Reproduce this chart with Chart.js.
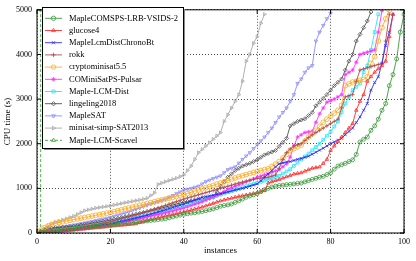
<!DOCTYPE html>
<html>
<head>
<meta charset="utf-8">
<script src="https://cdn.jsdelivr.net/npm/chart.js@4/dist/chart.umd.min.js"></script>
<style>
  body { margin: 0; background: #fff; }
  canvas { display: block; }
</style>
</head>
<body>
<canvas id="cactus" width="416" height="261"></canvas>
<script>
// solver names, in legend order
const solvers = ['MapleCOMSPS-LRB-VSIDS-2', 'glucose4', 'MapleLcmDistChronoBt', 'rokk',
  'cryptominisat5.5', 'COMiniSatPS-Pulsar', 'Maple-LCM-Dist', 'lingeling2018',
  'MapleSAT', 'minisat-simp-SAT2013', 'Maple-LCM-Scavel'];

// sorted CPU times (s), instance i+1 -> value i
const mapleComsps = [10, 20, 30, 40, 50, 60, 70, 80, 90, 100,
  108, 115, 122, 130, 140, 148, 155, 163, 172, 180,
  188, 195, 203, 210, 220, 230, 240, 250, 260, 270,
  280, 290, 300, 310, 320, 340, 360, 380, 400, 420,
  432, 445, 455, 468, 480, 500, 520, 540, 570, 600,
  615, 630, 650, 685, 720, 760, 800, 830, 855, 880,
  925, 970, 1000, 1030, 1050, 1062, 1072, 1082, 1090, 1100,
  1110, 1120, 1145, 1175, 1200, 1225, 1250, 1270, 1310, 1350,
  1430, 1500, 1530, 1560, 1600, 1640, 1760, 2040, 2100, 2150,
  2300, 2400, 2550, 2750, 2900, 3300, 3550, 3900, 4500, 4900];

const glucose = [5, 12, 20, 28, 35, 42, 50, 57, 64, 70,
  78, 85, 92, 100, 108, 115, 122, 130, 140, 150,
  158, 166, 174, 182, 190, 198, 207, 235, 258, 280,
  300, 320, 340, 360, 380, 398, 416, 434, 452, 470,
  492, 514, 536, 558, 580, 608, 636, 664, 692, 720,
  740, 760, 780, 800, 820, 836, 852, 868, 884, 900,
  925, 950, 1120, 1150, 1175, 1200, 1230, 1260, 1290, 1320,
  1335, 1350, 1385, 1420, 1450, 1465, 1480, 1560, 1650, 1850,
  1950, 2050, 2150, 2250, 2350, 2450, 2750, 2950, 3100, 3400,
  3500, 3600, 3680, 3750, 3850, 4400, 4900];

const chronoBt = [8, 16, 24, 32, 40, 48, 56, 64, 72, 80,
  92, 104, 116, 128, 140, 152, 164, 176, 188, 200,
  220, 240, 260, 280, 300, 320, 340, 360, 380, 400,
  424, 448, 472, 496, 520, 546, 572, 598, 624, 650,
  680, 710, 740, 770, 800, 816, 832, 848, 864, 880,
  900, 920, 940, 960, 980, 1000, 1025, 1050, 1075, 1100,
  1170, 1250, 1320, 1400, 1480, 1550, 1570, 1590, 1600, 1625,
  1650, 1670, 1695, 1720, 1765, 1810, 1855, 1900, 1950, 2000,
  2040, 2080, 2120, 2200, 2275, 2350, 2475, 2600, 2750, 2900,
  3200, 3370, 3500, 3800, 4200, 4500, 4900];

const rokk = [10, 20, 30, 40, 50, 60, 70, 80, 90, 100,
  115, 130, 145, 160, 175, 190, 205, 220, 235, 250,
  273, 296, 319, 342, 365, 388, 411, 434, 457, 480,
  508, 536, 564, 592, 620, 648, 676, 704, 732, 760,
  784, 808, 832, 856, 880, 904, 928, 952, 976, 1000,
  1024, 1048, 1072, 1096, 1120, 1140, 1160, 1180, 1200, 1220,
  1230, 1240, 1250, 1275, 1300, 1450, 1650, 1800, 1880, 1950,
  1975, 2000, 2070, 2140, 2200, 2250, 2300, 2350, 2400, 2450,
  2500, 2550, 2800, 3050, 3075, 3100, 3400, 3650, 3675, 3700,
  3725, 3750, 3775, 3800, 4300, 4900];

const cryptominisat = [60, 120, 160, 190, 220, 236, 252, 268, 284, 300,
  316, 332, 348, 364, 380, 396, 412, 428, 444, 460,
  480, 500, 520, 540, 560, 580, 600, 620, 640, 660,
  680, 700, 720, 740, 760, 780, 800, 820, 840, 860,
  886, 912, 938, 964, 990, 1016, 1042, 1068, 1094, 1120,
  1148, 1176, 1204, 1232, 1260, 1284, 1308, 1332, 1356, 1380,
  1400, 1420, 1440, 1490, 1545, 1600, 1680, 1760, 1850, 1890,
  1930, 1970, 2060, 2150, 2225, 2300, 2390, 2480, 2550, 2620,
  2685, 2750, 2860, 3300, 3340, 3380, 3400, 3420, 3440, 3500,
  3800, 3950, 4300, 4600, 4800, 4990];

const pulsar = [4, 8, 12, 16, 20, 28, 36, 44, 52, 60,
  72, 84, 96, 108, 120, 134, 148, 162, 176, 190,
  206, 222, 238, 254, 270, 288, 306, 324, 342, 360,
  378, 396, 414, 432, 450, 472, 494, 516, 538, 560,
  588, 616, 644, 672, 700, 736, 772, 808, 844, 880,
  930, 980, 1013, 1046, 1080, 1113, 1146, 1180, 1215, 1250,
  1277, 1304, 1330, 1360, 1390, 1420, 1485, 1550, 1700, 1950,
  2150, 2200, 2250, 2265, 2280, 2480, 2670, 2800, 2930, 2965,
  3000, 3050, 3100, 3550, 3600, 3650, 3825, 4000, 4025, 4050,
  4075, 4100, 4500, 4980];

const lcmDist = [8, 16, 24, 32, 40, 50, 60, 70, 80, 90,
  102, 114, 126, 138, 150, 164, 178, 192, 206, 220,
  236, 252, 268, 284, 300, 318, 336, 354, 372, 390,
  410, 430, 450, 470, 490, 512, 534, 556, 578, 600,
  624, 648, 672, 696, 720, 748, 776, 804, 832, 860,
  888, 916, 944, 972, 1000, 1024, 1048, 1072, 1096, 1120,
  1147, 1174, 1200, 1227, 1254, 1280, 1330, 1380, 1430, 1503,
  1576, 1650, 1715, 1780, 1853, 1926, 2000, 2090, 2180, 2270,
  2385, 2500, 2700, 2900, 3050, 3200, 3275, 3350, 3600, 3750,
  4100, 4500, 4900];

const lingeling = [40, 70, 100, 110, 120, 126, 132, 138, 144, 150,
  164, 178, 192, 206, 220, 234, 248, 262, 276, 290,
  308, 326, 344, 362, 380, 400, 420, 440, 460, 480,
  500, 520, 540, 560, 580, 602, 624, 646, 668, 690,
  704, 718, 732, 746, 760, 773, 786, 800, 920, 1050,
  1150, 1250, 1325, 1400, 1450, 1500, 1530, 1560, 1600, 1640,
  1695, 1750, 1783, 1816, 1850, 1940, 2030, 2120, 2400, 2450,
  2500, 2530, 2560, 2630, 2700, 2850, 2930, 3015, 3100, 3200,
  3300, 3375, 3450, 3650, 3850, 4000, 4300, 4450, 4600, 4750,
  4950];

const mapleSat = [20, 40, 60, 80, 100, 116, 132, 148, 164, 180,
  196, 212, 228, 244, 260, 278, 296, 314, 332, 350,
  374, 398, 422, 446, 470, 500, 530, 560, 590, 620,
  648, 676, 704, 732, 760, 800, 840, 880, 920, 960,
  980, 1000, 1025, 1050, 1100, 1150, 1185, 1220, 1250, 1280,
  1350, 1420, 1450, 1480, 1565, 1650, 1725, 1800, 1890, 1980,
  2065, 2150, 2250, 2350, 2475, 2600, 2700, 2800, 2950, 3100,
  3350, 3450, 3600, 3700, 3750, 4300, 4500, 4650, 4800, 4920];

const minisat = [40, 100, 150, 200, 240, 267, 294, 320, 350, 380,
  420, 460, 500, 520, 540, 560, 572, 585, 598, 610,
  628, 645, 662, 680, 695, 710, 725, 740, 760, 780,
  840, 900, 1090, 1120, 1150, 1177, 1204, 1230, 1265, 1300,
  1400, 1500, 1650, 1800, 1875, 1950, 2025, 2100, 2175, 2250,
  2500, 2650, 2800, 2950, 3100, 3400, 3850, 4000, 4250, 4400,
  4700, 4900];

// Maple-LCM-Scavel: only the first instance, then straight up
const scavelX = [1, 1];
const scavelY = [20, 5000];

const xTicks = [0, 20, 40, 60, 80, 100];
const yTicks = [0, 1000, 2000, 3000, 4000, 5000];

const series = [mapleComsps, glucose, chronoBt, rokk, cryptominisat, pulsar,
  lcmDist, lingeling, mapleSat, minisat];
const colors = ['#3a9a3a', '#ff2a2a', '#2a2aff', '#a8524e', '#ffaa22', '#ff33ff',
  '#22e6ff', '#505050', '#8c8cff', '#a8a8a8', '#33aa33'];
const marks = [
  {pointStyle: 'circle', rotation: 0},
  {pointStyle: 'triangle', rotation: 0},
  {pointStyle: 'crossRot', rotation: 0},
  {pointStyle: 'cross', rotation: 0},
  {pointStyle: 'circle', rotation: 0},
  {pointStyle: 'star', rotation: 0},
  {pointStyle: 'rect', rotation: 0},
  {pointStyle: 'rectRot', rotation: 0},
  {pointStyle: 'triangle', rotation: 180},
  {pointStyle: 'triangle', rotation: 90},
  {pointStyle: 'triangle', rotation: 0}
];

const toPoints = vals => vals.map((v, i) => ({x: i + 1, y: v}));

const datasets = series.map((vals, i) => ({
  label: solvers[i],
  data: toPoints(vals),
  borderColor: colors[i],
  backgroundColor: 'transparent',
  borderWidth: 0.9,
  pointStyle: marks[i].pointStyle,
  rotation: marks[i].rotation,
  pointRadius: i === 4 ? 2.4 : 2,
  pointBorderWidth: 0.8,
  pointBackgroundColor: 'transparent',
  pointBorderColor: colors[i]
}));
datasets.push({
  label: solvers[10],
  data: scavelX.map((x, i) => ({x: x, y: scavelY[i]})),
  borderColor: colors[10],
  backgroundColor: 'transparent',
  borderWidth: 0.9,
  borderDash: [3, 2],
  pointStyle: 'triangle',
  pointRadius: 2,
  pointBorderWidth: 0.8,
  pointBackgroundColor: 'transparent',
  pointBorderColor: colors[10]
});

const serif = 'Liberation Serif, Times New Roman, serif';

// gnuplot-like frame, inward ticks and boxed key
const framePlugin = {
  id: 'frame',
  afterDraw(chart) {
    const {ctx, chartArea: a, scales: {x, y}} = chart;
    ctx.save();
    ctx.strokeStyle = '#000';
    ctx.lineWidth = 1;
    ctx.setLineDash([]);
    ctx.strokeRect(a.left, a.top, a.width, a.height);
    ctx.beginPath();
    yTicks.forEach(t => {
      const py = y.getPixelForValue(t);
      ctx.moveTo(a.left, py); ctx.lineTo(a.left + 4, py);
      ctx.moveTo(a.right, py); ctx.lineTo(a.right - 4, py);
    });
    xTicks.forEach(t => {
      const px = x.getPixelForValue(t);
      ctx.moveTo(px, a.bottom); ctx.lineTo(px, a.bottom - 4);
      ctx.moveTo(px, a.top); ctx.lineTo(px, a.top + 4);
    });
    ctx.stroke();

    // key box
    const bx = 42, by = 7, bw = 141, bh = 141;
    ctx.fillStyle = '#8a8a8a';
    ctx.fillRect(bx + 2, by + 2, bw, bh);
    ctx.fillStyle = '#fff';
    ctx.fillRect(bx, by, bw, bh);
    ctx.strokeStyle = '#000';
    ctx.strokeRect(bx + 0.5, by + 0.5, bw, bh);

    ctx.font = '8.5px ' + serif;
    ctx.textBaseline = 'middle';
    ctx.textAlign = 'left';
    chart.data.datasets.forEach((ds, i) => {
      const ry = 18.3 + i * 12.2;
      ctx.strokeStyle = ds.borderColor;
      ctx.lineWidth = 0.9;
      ctx.setLineDash(ds.borderDash || []);
      ctx.beginPath();
      ctx.moveTo(45, ry); ctx.lineTo(62, ry);
      ctx.stroke();
      ctx.setLineDash([]);
      ctx.fillStyle = 'rgba(0,0,0,0)';
      ctx.lineWidth = 0.8;
      Chart.helpers.drawPoint(ctx, {
        pointStyle: ds.pointStyle,
        rotation: ds.rotation || 0,
        radius: 2.2,
        borderWidth: 0.8
      }, 53.5, ry);
      ctx.fillStyle = '#000';
      ctx.fillText(ds.label, 69, ry);
    });
    ctx.restore();
  }
};

new Chart(document.getElementById('cactus'), {
  type: 'line',
  data: {datasets: datasets},
  options: {
    responsive: false,
    animation: false,
    devicePixelRatio: 1,
    parsing: false,
    layout: {padding: {left: 0, right: 12, top: 6, bottom: 3}},
    plugins: {legend: {display: false}, tooltip: {enabled: false}},
    scales: {
      x: {
        type: 'linear',
        min: 0,
        max: 100,
        afterFit: s => { s.height = 25; },
        afterBuildTicks: s => { s.ticks = xTicks.map(v => ({value: v})); },
        ticks: {color: '#000', font: {family: serif, size: 8}, padding: 4, maxRotation: 0,
          callback: v => String(v)},
        grid: {color: '#000', lineWidth: 0.7, drawTicks: false},
        border: {display: false, dash: [1, 2]},
        title: {display: true, text: 'instances', color: '#000',
          font: {family: serif, size: 9}, padding: {top: 0, bottom: 1.5}}
      },
      y: {
        type: 'linear',
        min: 0,
        max: 5000,
        afterFit: s => { s.width = 37; },
        afterBuildTicks: s => { s.ticks = yTicks.map(v => ({value: v})); },
        ticks: {color: '#000', font: {family: serif, size: 8}, padding: 5,
          callback: v => String(v)},
        grid: {color: '#000', lineWidth: 0.7, drawTicks: false},
        border: {display: false, dash: [1, 2]},
        title: {display: true, text: 'CPU time (s)', color: '#000',
          font: {family: serif, size: 9}, padding: {top: 2, bottom: 0}}
      }
    }
  },
  plugins: [framePlugin]
});
</script>
</body>
</html>
